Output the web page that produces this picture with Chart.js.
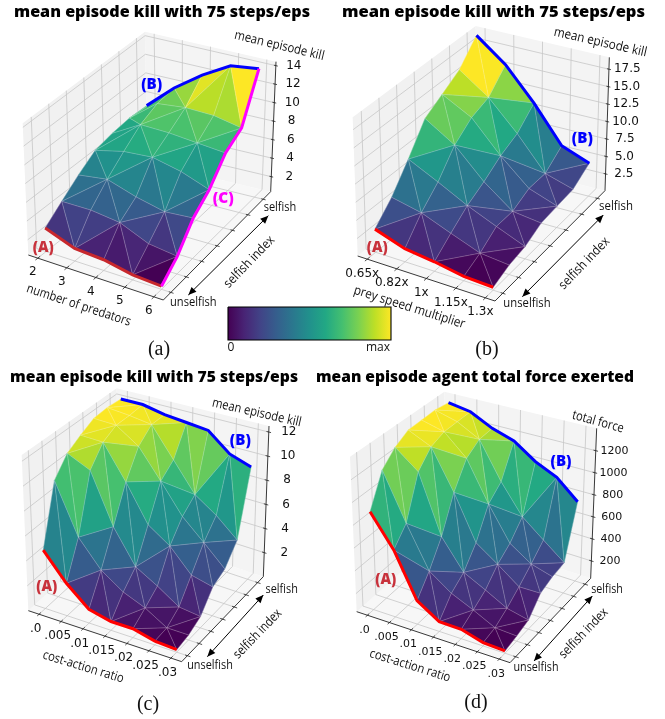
<!DOCTYPE html>
<html>
<head>
<meta charset="utf-8">
<style>html,body{margin:0;padding:0;background:#fff}canvas{display:block}</style>
<script src="https://cdn.jsdelivr.net/npm/chart.js@4"></script>
</head>
<body>
<canvas id="myChart" width="665" height="719"></canvas>
<script>
// rows run from unselfish (first) to selfish (last)
const killByPredators=[[2.9,1.7,1.5,0.9,0.7],[4.3,4.3,3.9,2.6,2.2],[5.7,6.1,5.1,4.4,4.6],[6.9,7.6,7.8,7.1,6.0],[7.3,9.0,8.9,8.6,8.3],[7.5,9.8,10.1,10.0,9.4],[7.4,10.0,12.1,13.8,14.2]];
const killBySpeed=[[3.3,1.9,1.4,0.7,0.5],[5.8,4.9,3.3,1.8,1.4],[9.2,7.2,5.1,3.4,1.8],[13.0,10.4,6.4,3.4,2.9],[14.5,12.3,8.0,4.5,3.1],[16.1,13.2,9.1,4.5,3.3],[19.1,15.9,11.4,6.3,4.8]];
const killByCost=[[4.7,2.6,1.1,0.7,0.7,0.3,0.2],[9.5,5.4,3.3,2.1,1.4,0.4,0.4],[10.9,10.0,5.9,3.2,2.2,1.1,0.9],[11.6,11.5,8.7,5.7,4.5,2.7,2.3],[12.2,12.1,10.8,8.4,6.0,4.4,2.8],[12.3,12.1,11.8,9.3,6.9,5.7,4.2],[12.2,12.2,11.8,11.6,11.4,9.9,9.3]];
const forceByCost=[[904,626,245,126,122,70,61],[1186,767,406,271,187,96,86],[1303,1137,612,355,260,161,120],[1375,1274,914,519,385,247,249],[1380,1323,1131,770,472,346,292],[1386,1327,1214,877,612,458,313],[1366,1331,1225,1158,1019,928,760]];
const predators=['2','3','4','5','6'];
const speeds=['0.65x','0.82x','1x','1.15x','1.3x'];
const costs=['.0','.005','.01','.015','.02','.025','.03'];
const ticksA=[2,4,6,8,10,12,14];
const ticksB=[2.5,5,7.5,10,12.5,15,17.5];
const ticksC=[2,4,6,8,10,12];
const ticksD=[200,400,600,800,1000,1200];
const diagA=['baba','abab','baba','abab','baba','abab'];
const diagB=['abab','baba','abab','baba','abab','baba'];
const diagCost=['babaab','baabaa','abbabb','aaabab','bababa','ababab'];
const viridis=['#440154','#482475','#414487','#355f8d','#2a788e','#21918c','#22a884','#44bf70','#7ad151','#bddf26','#fde725'];
const MARGIN=0.07;
function vir(t){t=Math.max(0,Math.min(1,t))*10;const k=Math.min(9,Math.floor(t)),f=t-k;
  const h=s=>[1,3,5].map(n=>parseInt(s.substr(n,2),16));const a=h(viridis[k]),b=h(viridis[k+1]);
  return 'rgb('+a.map((c,n)=>Math.round(c+(b[n]-c)*f)).join(',')+')';}
// box corners are in 3x crop units, relative to the panel offset
const panels=[
 {off:[0,0],A:[85,765],B:[490,900],C:[812,575],D:[442,487],A2:[68,370],B2:[497,485],C2:[828,185],D2:[435,95],zr:[0.38,14.43],zv:killByPredators,xt:predators,zt:ticksA,zd:0,diag:diagA,
  xo:[-15,42],zo:54,fs:12,red:'#c8282d',edges:[['j',0,'red'],['j',6,'#0000ff'],['i',4,'#ff00ff']],
  title:['mean episode kill with 75 steps/eps',162,12,296],zl:['mean episode kill',838,137,13.6,92],xl:['number of predators',236,916,18.3,109],
  sl:[748,786,200],s1:[840,622,98],s2:[580,908,140],arrow:[565,885,805,647],notes:[['(A)',130,742,'#c8323c'],['(B)',455,255,'#0000ff'],['(C)',670,597,'#ff00ff']],cap:['(a)',159,350]},
 {off:[330,0],A:[83,768],B:[495,903],C:[825,572],D:[445,478],A2:[68,352],B2:[503,480],C2:[838,172],D2:[437,78],zr:[0.1,19.2],zv:killBySpeed,xt:speeds,zt:ticksB,zd:1,diag:diagB,
  xo:[-15,43],zo:55,fs:12,red:'#ff0000',edges:[['j',0,'red'],['j',6,'#0000ff']],
  title:['mean episode kill with 75 steps/eps',163.5,12,303],zl:['mean episode kill',811,127,12.8,95],xl:['prey speed multiplier',238,922,17.5,116],
  sl:[763,790,200],s1:[858,618,102],s2:[591,911,142],arrow:[577,890,820,645],notes:[['(A)',142,742,'#c8323c'],['(B)',757,415,'#0000ff']],cap:['(b)',157,350]},
 {off:[0,360],A:[85,752],B:[545,905],C:[790,650],D:[357,505],A2:[65,285],B2:[555,410],C2:[807,198],D2:[350,85],zr:[0.01,12.5],zv:killByCost,xt:costs,zt:ticksC,zd:0,diag:diagCost,
  xo:[-10,44],zo:60,fs:12,red:'#ff0000',edges:[['j',0,'red'],['j',6,'#0000ff']],
  title:['mean episode kill with 75 steps/eps',154,17,288],zl:['mean episode kill',770,158,12.8,91],xl:['cost-action ratio',250,921,17,84],
  sl:[773,822,190],s1:[845,687,97],s2:[630,915,137],arrow:[622,890,790,705],notes:[['(A)',140,680,'#c8323c'],['(B)',721,241,'#0000ff']],cap:['(c)',148,345]},
 {off:[330,360],A:[80,755],B:[540,908],C:[782,655],D:[350,515],A2:[60,290],B2:[550,415],C2:[800,205],D2:[343,95],zr:[42,1403],zv:forceByCost,xt:costs,zt:ticksD,zd:0,diag:diagCost,
  xo:[-9,44],zo:56,fs:11,red:'#ff0000',edges:[['j',0,'red'],['j',6,'#0000ff']],
  title:['mean episode agent total force exerted',145,17,318],zl:['total force',804,186,15.4,53],xl:['cost-action ratio',240,917,17.4,84],
  sl:[761,820,192],s1:[831,689,95],s2:[618,922,135],arrow:[612,903,787,708],notes:[['(A)',167,660,'#c8323c'],['(B)',693,305,'#0000ff']],cap:['(d)',146,343]}
];
const lerp=(a,b,t)=>[a[0]+(b[0]-a[0])*t,a[1]+(b[1]-a[1])*t];
function proj(p,u,v,w){
  const fl=lerp(lerp(p.A,p.B,u),lerp(p.D,p.C,u),v),tp=lerp(lerp(p.A2,p.B2,u),lerp(p.D2,p.C2,u),v),q=lerp(fl,tp,w);
  return {x:p.off[0]+q[0]/3,y:p.off[1]+q[1]/3};
}
const grid=(k,n)=>MARGIN+(1-2*MARGIN)*k/(n-1);
const zw=(p,z)=>(z-p.zr[0])/(p.zr[1]-p.zr[0]);
const datasets=[];let seq=0;
function poly(pts,o){datasets.push(Object.assign({type:'line',data:pts,pointRadius:0,tension:0,fill:false,borderWidth:0,order:-(seq++)},o));}
function shape(pts,fillc,line,lw){poly(pts.concat([pts[0]]),{fill:'shape',backgroundColor:fillc,borderColor:line||fillc,borderWidth:lw||0.01});}
function seg(a,b,c,lw){poly([a,b],{borderColor:c,borderWidth:lw});}
const GRID='#c6c6c6';
panels.forEach(p=>{
  const P=(u,v,w)=>proj(p,u,v,w),nx=p.xt.length,ny=7;
  shape([P(0,0,0),P(1,0,0),P(1,1,0),P(0,1,0)],'#f7f7f7');
  shape([P(0,0,0),P(0,1,0),P(0,1,1),P(0,0,1)],'#f1f1f1');
  shape([P(0,1,0),P(1,1,0),P(1,1,1),P(0,1,1)],'#f4f4f4');
  p.xt.forEach((t,i)=>{const u=grid(i,nx);seg(P(u,0,0),P(u,1,0),GRID,.8);seg(P(u,1,0),P(u,1,1),GRID,.8);});
  for(let j=0;j<ny;j++){const v=grid(j,ny);seg(P(0,v,0),P(1,v,0),GRID,.8);seg(P(0,v,0),P(0,v,1),GRID,.8);}
  p.zt.forEach(z=>{const w=zw(p,z);seg(P(0,0,w),P(0,1,w),GRID,.8);seg(P(0,1,w),P(1,1,w),GRID,.8);});
  seg(P(0,0,0),P(1,0,0),'#222',.9);seg(P(1,0,0),P(1,1,0),'#222',.9);seg(P(1,1,0),P(1,1,1),'#222',.9);
  p.xt.forEach((t,i)=>{const u=grid(i,nx);seg(P(u,-.02,0),P(u,.02,0),'#222',.8);});
  for(let j=0;j<ny;j++){const v=grid(j,ny);seg(P(.985,v,0),P(1.02,v,0),'#222',.8);}
  p.zt.forEach(z=>{const w=zw(p,z);seg(P(.985,1,w),P(1.015,1,w),'#222',.8);});
  // triangles, back to front, then the pale mesh on top
  const V=(i,j)=>({u:grid(i,nx),v:grid(j,ny),w:zw(p,p.zv[j][i]),z:p.zv[j][i]}),tris=[];
  for(let j=0;j<ny-1;j++)for(let i=0;i<nx-1;i++){
    const a=V(i,j),b=V(i+1,j),c=V(i+1,j+1),d=V(i,j+1);
    if(p.diag[j][i]==='a'){tris.push([a,b,c],[a,c,d]);}else{tris.push([a,b,d],[b,c,d]);}
  }
  const avg=t=>(t[0].z+t[1].z+t[2].z)/3,depth=t=>t.reduce((s,q)=>s+q.v-q.u-.3*q.w,0);
  const as=tris.map(avg),lo=Math.min(...as),hi=Math.max(...as);
  tris.sort((s,t)=>depth(t)-depth(s));
  tris.forEach(t=>{const col=vir((avg(t)-lo)/(hi-lo));shape(t.map(q=>P(q.u,q.v,q.w)),col,col,.4);});
  tris.forEach(t=>{const r=t.map(q=>P(q.u,q.v,q.w));poly(r.concat([r[0]]),{borderColor:'rgba(255,255,255,.26)',borderWidth:.5});});
  p.edges.forEach(e=>{const pts=[];
    if(e[0]==='j'){for(let i=0;i<nx;i++){const q=V(i,e[1]);pts.push(P(q.u,q.v,q.w));}}
    else{for(let j=0;j<ny;j++){const q=V(e[1],j);pts.push(P(q.u,q.v,q.w));}}
    poly(pts,{borderColor:e[2]==='red'?p.red:e[2],borderWidth:3});});
});
const ctx=document.getElementById('myChart').getContext('2d');
const barGrad=ctx.createLinearGradient(228,0,391,0);
viridis.forEach((c,k)=>barGrad.addColorStop(k/10,c));
shape([{x:228,y:307},{x:391,y:307},{x:391,y:340},{x:228,y:340}],barGrad,'#000',1.1);
const SANS='"Open Sans",sans-serif';
function label(c,txt,x,y,rot,width,font,color){
  c.save();c.translate(x,y);c.rotate((rot||0)*Math.PI/180);c.font=font;c.fillStyle=color||'#111';
  c.textAlign='center';c.textBaseline='middle';
  if(width){const m=c.measureText(txt).width;c.scale(width/m,1);}
  c.fillText(txt,0,0);c.restore();
}
const texts={id:'texts',afterDatasetsDraw(ch){
  const c=ch.ctx,sx=ch.scales.x,sy=ch.scales.y;
  panels.forEach(p=>{
    const Z=(q,r)=>[sx.getPixelForValue(p.off[0]+q/3),sy.getPixelForValue(p.off[1]+r/3)];
    const at=(txt,pt,rot,w,font,col)=>label(c,txt,pt[0],pt[1],rot,w,font,col);
    label(c,p.title[0],sx.getPixelForValue(p.off[0]+p.title[1]),sy.getPixelForValue(p.off[1]+p.title[2]),0,p.title[3],'800 16px '+SANS,'#000');
    at(p.zl[0],Z(p.zl[1],p.zl[2]),p.zl[3],p.zl[4],'13px '+SANS);
    at(p.xl[0],Z(p.xl[1],p.xl[2]),p.xl[3],p.xl[4],'13px '+SANS);
    at('selfish index',Z(p.sl[0],p.sl[1]),-46,p.sl[2]/3,'13px '+SANS);
    at('selfish',Z(p.s1[0],p.s1[1]),0,p.s1[2]/3,'13px '+SANS);
    at('unselfish',Z(p.s2[0],p.s2[1]),0,p.s2[2]/3,'13px '+SANS);
    p.notes.forEach(n=>at(n[0],Z(n[1],n[2]),0,21,'800 15px '+SANS,n[3]));
    p.xt.forEach((t,i)=>{const q=proj(p,grid(i,p.xt.length),0,0);
      label(c,t,q.x+p.xo[0]/3,q.y+p.xo[1]/3,0,0,p.fs+'px "DejaVu Sans",sans-serif');});
    p.zt.forEach(z=>{const q=proj(p,1,1,zw(p,z));
      label(c,z.toFixed(p.zd),q.x+p.zo/3,q.y,0,0,p.fs+'px "DejaVu Sans",sans-serif');});
    label(c,p.cap[0],p.off[0]+p.cap[1],p.off[1]+p.cap[2],0,0,'20px "Liberation Serif",serif');
    const a=Z(p.arrow[0],p.arrow[1]),b=Z(p.arrow[2],p.arrow[3]);
    c.strokeStyle='#000';c.lineWidth=1;c.beginPath();c.moveTo(a[0],a[1]);c.lineTo(b[0],b[1]);c.stroke();
    [[a,b],[b,a]].forEach(e=>{const t=Math.atan2(e[1][1]-e[0][1],e[1][0]-e[0][0]);c.save();c.translate(e[1][0],e[1][1]);c.rotate(t);
      c.fillStyle='#000';c.beginPath();c.moveTo(0,0);c.lineTo(-8,-3.5);c.lineTo(-8,3.5);c.closePath();c.fill();c.restore();});
  });
  label(c,'0',sx.getPixelForValue(231),sy.getPixelForValue(348),0,0,'12px '+SANS);
  label(c,'max',sx.getPixelForValue(378),sy.getPixelForValue(348),0,0,'12px '+SANS);
}};
new Chart(ctx,{type:'scatter',data:{datasets},plugins:[texts],options:{responsive:false,animation:false,
  layout:{padding:0},plugins:{legend:{display:false},tooltip:{enabled:false}},
  elements:{line:{capBezierPoints:false}},
  scales:{x:{type:'linear',min:0,max:665,display:false},y:{type:'linear',min:0,max:719,reverse:true,display:false}}}});
</script>
</body>
</html>
